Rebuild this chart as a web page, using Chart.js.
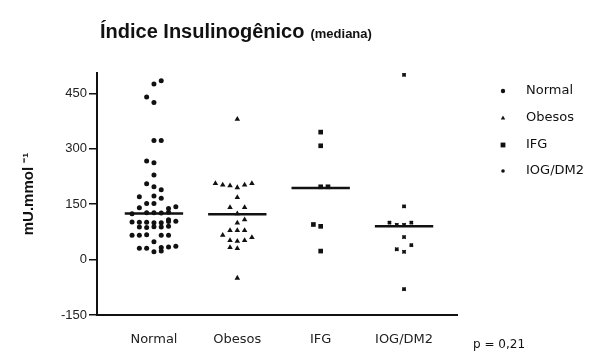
<!DOCTYPE html>
<html>
<head>
<meta charset="utf-8">
<script src="https://cdn.jsdelivr.net/npm/chart.js@4.4.1/dist/chart.umd.min.js"></script>
<style>
  html, body { margin: 0; padding: 0; background: #fff; }
  #wrap { width: 609px; height: 354px; }
</style>
</head>
<body>
<div id="wrap"><canvas id="grafico" width="609" height="354"></canvas></div>
<script>
// categorias e eixos
const grupos = ["Normal", "Obesos", "IFG", "IOG/DM2"];
const ticksY = [-150, 0, 150, 300, 450];
const medianas = [125, 123, 194, 90];
const titulo = "Índice Insulinogênico";
const subtitulo = "(mediana)";
const textoP = "p = 0,21";

// valores (coluna = posição no enxame, em passos)
const normalValores = [484, 475, 440, 425, 322, 322, 267, 262, 229, 205, 197, 189, 172, 170, 166, 152, 152, 143, 140, 138,
  127, 127, 126, 128, 124, 102, 101, 101, 100, 100, 103, 104, 88, 87, 89, 88, 90, 108, 66, 66, 67, 66, 66, 48,
  31, 31, 33, 34, 36, 21, 23];
const normalColunas = [1, 0, -1, 0, 0, 1, -1, 0, 0, -1, 0, 1, 0, -2, 1, -1, 0, 3, -2, 2,
  -1, 0, 1, 2, -3, -3, -2, -1, 0, 1, 2, 3, -2, -1, 0, 1, 2, 2, -3, -2, -1, 1, 2, 0,
  -2, -1, 1, 2, 3, 0, 1];

const obesosValores = [380, 206, 202, 200, 195, 202, 206, 168, 141, 141, 124, 108, 99, 79, 79, 79, 66, 60, 52, 50, 52, 33, 30, -50];
const obesosColunas = [0, -3, -2, -1, 0, 1, 2, 0, -1, 1, 0, 1, 0, -1, 0, 1, -2, 2, -1, 0, 1, -1, 0, 0];

const ifgValores = [345, 308, 197, 197, 95, 90, 23];
const ifgColunas = [0, 0, 0, 1, -1, 0, 0];

const iogValores = [500, 144, 100, 94, 94, 100, 61, 39, 28, 21, -80];
const iogColunas = [0, 0, -2, -1, 0, 1, 0, 1, -1, 0, 0];

const passo = 0.0875;
const meiaLinha = 0.35;

function pontos(grupo, valores, colunas) {
  return valores.map((v, i) => ({ x: grupo + colunas[i] * passo, y: v }));
}

const estilos = [
  { pointStyle: "circle", pointRadius: 2.5, borderWidth: 0 },
  { pointStyle: "triangle", pointRadius: 3.2, borderWidth: 0 },
  { pointStyle: "rect", pointRadius: 3.3, borderWidth: 0 },
  { pointStyle: "crossRot", pointRadius: 2.4, borderWidth: 1.3 }
];

const series = [
  pontos(1, normalValores, normalColunas),
  pontos(2, obesosValores, obesosColunas),
  pontos(3, ifgValores, ifgColunas),
  pontos(4, iogValores, iogColunas)
];

const datasets = series.map((d, i) => ({
  label: grupos[i],
  data: d,
  pointStyle: estilos[i].pointStyle,
  pointRadius: estilos[i].pointRadius,
  backgroundColor: "#111",
  borderColor: "#111",
  borderWidth: estilos[i].borderWidth
}));

// miolo dos pontos IOG/DM2
datasets.push({
  label: "IOG/DM2 centro",
  data: series[3],
  pointStyle: "circle",
  pointRadius: 1.8,
  backgroundColor: "#111",
  borderWidth: 0
});

medianas.forEach((m, i) => {
  datasets.push({
    label: "mediana " + grupos[i],
    data: [{ x: i + 1 - meiaLinha, y: m }, { x: i + 1 + meiaLinha, y: m }],
    showLine: true,
    pointRadius: 0,
    borderColor: "#111",
    borderWidth: 2.5
  });
});

// titulo, legenda e valor de p
const textos = {
  id: "textos",
  afterDraw(chart) {
    const ctx = chart.ctx;
    ctx.save();
    ctx.fillStyle = "#111";
    ctx.textBaseline = "alphabetic";
    ctx.font = "bold 20px 'Liberation Sans', Arial, sans-serif";
    ctx.fillText(titulo, 100, 38);
    const w = ctx.measureText(titulo).width;
    ctx.font = "bold 13px 'Liberation Sans', Arial, sans-serif";
    ctx.fillText(subtitulo, 100 + w + 6, 38);

    ctx.textBaseline = "middle";
    ctx.font = "13px 'DejaVu Sans', sans-serif";
    const linhas = [91, 118, 145, 171];
    grupos.forEach((g, i) => {
      const y = linhas[i];
      const x = 503;
      ctx.beginPath();
      if (i === 0) {
        ctx.arc(x, y, 2.2, 0, Math.PI * 2);
      } else if (i === 1) {
        ctx.moveTo(x, y - 2.5);
        ctx.lineTo(x + 2.2, y + 1.5);
        ctx.lineTo(x - 2.2, y + 1.5);
        ctx.closePath();
      } else if (i === 2) {
        ctx.rect(x - 2.4, y - 2.4, 4.8, 4.8);
      } else {
        ctx.arc(x, y, 1.8, 0, Math.PI * 2);
      }
      ctx.fill();
      ctx.fillText(g, 526, y);
    });

    ctx.font = "12px 'DejaVu Sans', sans-serif";
    ctx.fillText(textoP, 473, 345);
    ctx.restore();
  }
};

new Chart(document.getElementById("grafico").getContext("2d"), {
  type: "scatter",
  data: { datasets: datasets },
  options: {
    responsive: false,
    animation: false,
    devicePixelRatio: 1,
    layout: { padding: { top: 73, right: 152, bottom: 0, left: 0 } },
    plugins: {
      legend: { display: false },
      tooltip: { enabled: false }
    },
    scales: {
      x: {
        type: "linear",
        min: 0.317,
        max: 4.635,
        afterBuildTicks: (scale) => { scale.ticks = grupos.map((g, i) => ({ value: i + 1 })); },
        afterFit: (scale) => { scale.height = 39; },
        grid: { display: false },
        border: { display: true, color: "#111", width: 2 },
        ticks: {
          padding: 9,
          color: "#222",
          font: { family: "'DejaVu Sans', sans-serif", size: 13 },
          callback: (v) => grupos[v - 1]
        }
      },
      y: {
        min: -150,
        max: 505,
        afterBuildTicks: (scale) => { scale.ticks = ticksY.map(v => ({ value: v })); },
        afterFit: (scale) => { scale.width = 97; },
        grid: { drawOnChartArea: false, drawTicks: true, tickLength: 8, color: "#111", lineWidth: 1.5 },
        border: { display: true, color: "#111", width: 2 },
        ticks: {
          padding: 2,
          color: "#222",
          font: { family: "'Liberation Sans', Arial, sans-serif", size: 13 }
        },
        title: {
          display: true,
          text: "mU.mmol \u207B\u00B9",
          color: "#111",
          padding: { top: 20 },
          font: { family: "'Liberation Sans', Arial, sans-serif", size: 15, weight: "bold" }
        }
      }
    }
  },
  plugins: [textos]
});
</script>
</body>
</html>
